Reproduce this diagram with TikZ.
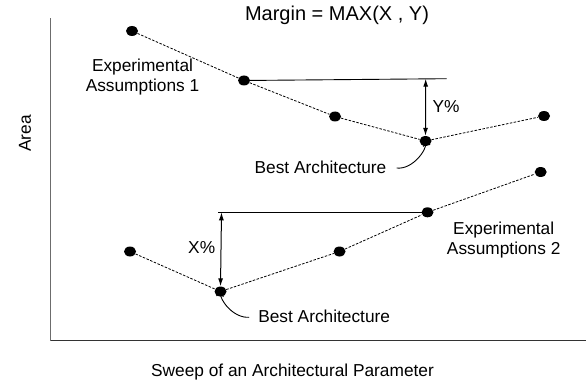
\documentclass[tikz,border=0pt]{standalone}
\usepackage{fontspec}
\setmainfont{Liberation Sans}
\usetikzlibrary{arrows.meta,shapes.geometric}
\begin{document}
\begin{tikzpicture}[x=1pt,y=-1pt,
  dot/.style={ellipse,fill=black,inner sep=0pt,minimum width=12pt,minimum height=10pt},
  dline/.style={line width=0.8pt,dash pattern=on 2.5pt off 1.5pt},
  lbl/.style={font=\fontsize{17.3}{20}\selectfont,align=center,inner sep=0pt},
  meas/.style={line width=1pt,{Latex[length=8pt,width=5pt]}-{Latex[length=8pt,width=5pt]}},
  curv/.style={line width=0.9pt,-{Straight Barb[length=4pt,width=7pt]}}]
\useasboundingbox (0,0) rectangle (586,385);
% axes
\coordinate (otop) at (50.7,18.3);
\coordinate (orig) at (50.7,340.7);
\coordinate (xend) at (585.7,340.7);
\draw[line width=1.3pt,gray!85!black] (otop) -- (orig);
\draw[line width=1.3pt,black!80] (orig) -- (xend);
% upper curve
\node[dot] (p1) at (132,31) {};
\node[dot] (p2) at (244,80.5) {};
\node[dot] (p3) at (335,116.5) {};
\node[dot] (p4) at (425.5,141) {};
\node[dot] (p5) at (544,116) {};
\draw[dline] (p1) -- (p2) -- (p3) -- (p4) -- (p5);
% lower curve
\node[dot] (q1) at (130,251.5) {};
\node[dot] (q2) at (220.5,291.5) {};
\node[dot] (q3) at (339.5,251.5) {};
\node[dot] (q4) at (427.5,212.3) {};
\node[dot] (q5) at (540.7,172) {};
\draw[dline] (q1) -- (q2) -- (q3) -- (q4) -- (q5);
% Y margin
\coordinate (yend) at (446.7,78.7);
\coordinate (ytop) at (425.7,78.7);
\draw[line width=0.9pt] (p2.center) -- (yend);
\draw[meas] (ytop) -- (p4.north);
\node[lbl] (ylbl) at (446,106.5) {Y\%};
% X margin
\coordinate (xstart) at (218,212.3);
\coordinate (xtop) at (221.5,212.3);
\draw[line width=0.9pt] (xstart) -- (q4.center);
\draw[meas] (xtop) -- (q2.north);
\node[lbl] (xlbl) at (201.7,248) {X\%};
% labels
\node[lbl] (title) at (337,15.5) {\fontsize{20}{24}\selectfont Margin = MAX(X , Y)};
\node[lbl] (ea1) at (142.5,77.5) {Experimental\\Assumptions 1};
\node[lbl] (ea2) at (503.7,240) {Experimental\\Assumptions 2};
\node[lbl] (ba1) at (320.5,167.5) {Best Architecture};
\node[lbl] (ba2) at (324.2,316.8) {Best Architecture};
\node[lbl,rotate=90] (area) at (25,133.5) {Area};
\node[lbl] (sweep) at (292.5,372.5) {Sweep of an Architectural Parameter};
% curved pointers
\draw[curv] ([xshift=10pt,yshift=-0.5pt]ba1.east) .. controls +(16,2) and +(2,8) .. ([yshift=5pt]p4.south);
\draw[curv] ([xshift=-9pt,yshift=-0.5pt]ba2.west) .. controls +(-16,1) and +(-1,8) .. ([yshift=5pt]q2.south);
\end{tikzpicture}
\end{document}
